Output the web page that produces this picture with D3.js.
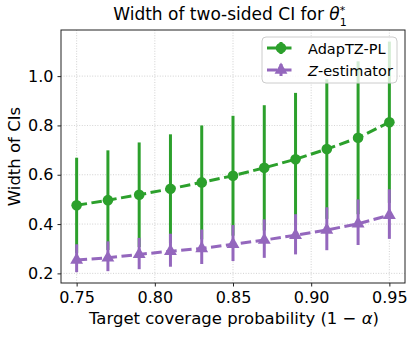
<!DOCTYPE html>
<html>
<head>
<meta charset="utf-8">
<script src="https://cdn.jsdelivr.net/npm/d3@7"></script>
<style>
  body { margin: 0; background: #fff; }
  svg { display: block; font-family: "DejaVu Sans", sans-serif; }
</style>
</head>
<body>
<svg id="chart"></svg>
<script>
// values
const coverage = [0.75, 0.77, 0.79, 0.81, 0.83, 0.85, 0.87, 0.89, 0.91, 0.93, 0.95];

const adapMean = [0.476, 0.497, 0.519, 0.543, 0.569, 0.596, 0.628, 0.663, 0.704, 0.750, 0.813];
const adapLow  = [0.283, 0.295, 0.307, 0.322, 0.338, 0.353, 0.374, 0.394, 0.421, 0.440, 0.486];
const adapHigh = [0.669, 0.699, 0.731, 0.764, 0.800, 0.839, 0.882, 0.932, 0.987, 1.060, 1.140];

const zMean = [0.254, 0.263, 0.277, 0.290, 0.301, 0.318, 0.335, 0.355, 0.376, 0.401, 0.436];
const zLow  = [0.205, 0.209, 0.217, 0.227, 0.238, 0.250, 0.263, 0.277, 0.294, 0.315, 0.340];
const zHigh = [0.318, 0.330, 0.344, 0.361, 0.378, 0.396, 0.419, 0.440, 0.468, 0.500, 0.541];

const xTicks = [0.75, 0.80, 0.85, 0.90, 0.95];
const yTicks = [0.2, 0.4, 0.6, 0.8, 1.0];

const green = "#2ca02c";
const purple = "#9467bd";

const W = 416, H = 337;
const mLeft = 61, mRight = 405, mTop = 30, mBottom = 283;

const svg = d3.select("#chart").attr("width", W).attr("height", H);

const x = d3.scaleLinear().domain([0.74, 0.96]).range([mLeft, mRight]);
const y = d3.scaleLinear().domain([0.161, 1.187]).range([mBottom, mTop]);

// grid
const grid = svg.append("g");
grid.selectAll(".gx").data(xTicks).enter().append("line")
  .attr("x1", d => x(d)).attr("x2", d => x(d))
  .attr("y1", mTop).attr("y2", mBottom)
  .attr("stroke", "#b0b0b0").attr("stroke-width", 0.8)
  .attr("stroke-dasharray", "1,1.6").attr("opacity", 0.7);
grid.selectAll(".gy").data(yTicks).enter().append("line")
  .attr("x1", mLeft).attr("x2", mRight)
  .attr("y1", d => y(d)).attr("y2", d => y(d))
  .attr("stroke", "#b0b0b0").attr("stroke-width", 0.8)
  .attr("stroke-dasharray", "1,1.6").attr("opacity", 0.7);

svg.append("clipPath").attr("id", "clip")
  .append("rect").attr("x", mLeft).attr("y", mTop)
  .attr("width", mRight - mLeft).attr("height", mBottom - mTop);

const plot = svg.append("g").attr("clip-path", "url(#clip)");

function drawSeries(mean, low, high, color, marker) {
  const g = plot.append("g");
  g.selectAll("line.err").data(coverage).enter().append("line")
    .attr("x1", d => x(d)).attr("x2", d => x(d))
    .attr("y1", (d, i) => y(low[i])).attr("y2", (d, i) => y(high[i]))
    .attr("stroke", color).attr("stroke-width", 3);
  const line = d3.line().x((d, i) => x(coverage[i])).y(d => y(d));
  g.append("path").datum(mean).attr("d", line)
    .attr("fill", "none").attr("stroke", color).attr("stroke-width", 3)
    .attr("stroke-dasharray", "10.5,4.5");
  g.selectAll("path.mk").data(mean).enter().append("path")
    .attr("transform", (d, i) => `translate(${x(coverage[i])},${y(d)})`)
    .attr("d", marker)
    .attr("fill", color);
}

const circle = d3.symbol().type(d3.symbolCircle).size(88)();
const tri = d3.symbol().type(d3.symbolTriangle).size(72)();

drawSeries(adapMean, adapLow, adapHigh, green, circle);
drawSeries(zMean, zLow, zHigh, purple, tri);

// frame
svg.append("rect").attr("x", mLeft).attr("y", mTop)
  .attr("width", mRight - mLeft).attr("height", mBottom - mTop)
  .attr("fill", "none").attr("stroke", "#222").attr("stroke-width", 1);

// axes
const xAxis = svg.append("g").attr("transform", `translate(0,${mBottom})`)
  .call(d3.axisBottom(x).tickValues(xTicks).tickFormat(d3.format(".2f")).tickSize(3.5).tickPadding(5));
const yAxis = svg.append("g").attr("transform", `translate(${mLeft},0)`)
  .call(d3.axisLeft(y).tickValues(yTicks).tickFormat(d3.format(".1f")).tickSize(3.5).tickPadding(4));
[xAxis, yAxis].forEach(a => {
  a.select(".domain").remove();
  a.selectAll("text").attr("font-size", 16).attr("fill", "#000")
    .attr("font-family", "DejaVu Sans");
  a.selectAll("line").attr("stroke", "#222");
});

// title, theta with stacked sub/superscript
const title = svg.append("text").attr("x", 230).attr("y", 20)
  .attr("text-anchor", "middle").attr("font-size", 17);
title.append("tspan").text("Width of two-sided CI for ");
title.append("tspan").attr("font-style", "italic").text("θ");
title.append("tspan").attr("font-size", 11).attr("dy", 6).text("1");
title.append("tspan").attr("font-size", 11).attr("dx", -7).attr("dy", -12).text("*");

// axis labels
const xl = svg.append("text").attr("x", (mLeft + mRight) / 2 + 1).attr("y", 324)
  .attr("text-anchor", "middle").attr("font-size", 16.5);
xl.append("tspan").text("Target coverage probability (1 − ");
xl.append("tspan").attr("font-style", "italic").text("α");
xl.append("tspan").text(")");

svg.append("text").attr("transform", `translate(20,${(mTop + mBottom) / 2}) rotate(-90)`)
  .attr("text-anchor", "middle").attr("font-size", 16.5).text("Width of CIs");

// legend
const lg = svg.append("g");
lg.append("rect").attr("x", 262).attr("y", 37).attr("width", 135).attr("height", 46)
  .attr("rx", 4).attr("fill", "#fff").attr("fill-opacity", 0.8)
  .attr("stroke", "#ccc").attr("stroke-width", 1);
const entries = [
  { name: "AdapTZ-PL", color: green, marker: circle },
  { name: "Z-estimator", color: purple, marker: tri }
];
entries.forEach((e, i) => {
  const cy = 48 + i * 22;
  lg.append("line").attr("x1", 267).attr("x2", 295).attr("y1", cy).attr("y2", cy)
    .attr("stroke", e.color).attr("stroke-width", 3).attr("stroke-dasharray", "10,4.5");
  lg.append("line").attr("x1", 281).attr("x2", 281).attr("y1", cy - 6).attr("y2", cy + 6)
    .attr("stroke", e.color).attr("stroke-width", 3);
  lg.append("path").attr("transform", `translate(281,${cy})`).attr("d", e.marker).attr("fill", e.color);
  const t = lg.append("text").attr("x", 308).attr("y", cy + 5.5).attr("font-size", 14.5);
  if (i === 1) {
    t.append("tspan").attr("font-style", "italic").text("Z");
    t.append("tspan").text("-estimator");
  } else {
    t.text(e.name);
  }
});
</script>
</body>
</html>
